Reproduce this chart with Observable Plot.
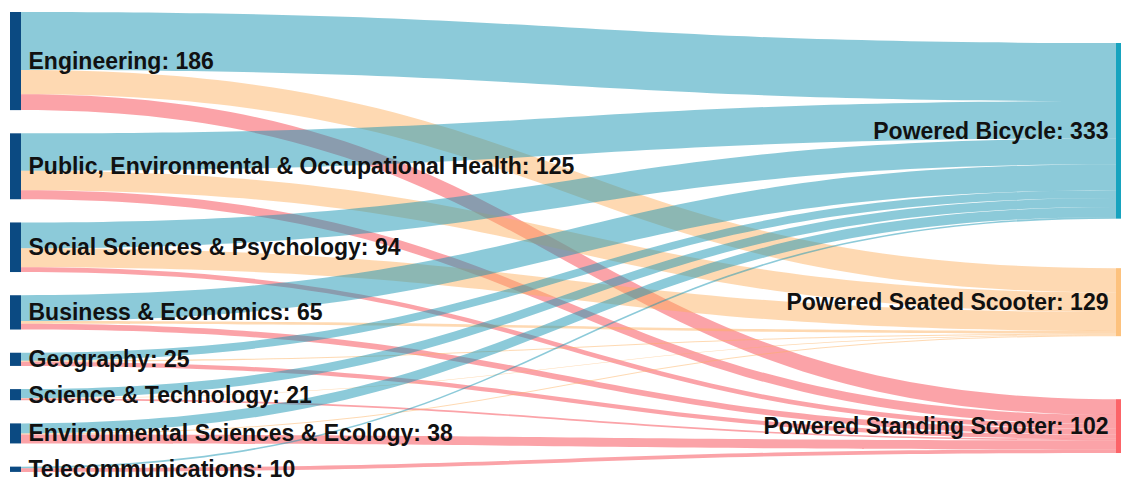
<!DOCTYPE html>
<html>
<head>
<meta charset="utf-8">
<script src="https://cdn.jsdelivr.net/npm/d3@7"></script>
<script src="https://cdn.jsdelivr.net/npm/@observablehq/plot@0.6"></script>
<style>
  html, body { margin: 0; padding: 0; background: #fff; }
  #chart svg { display: block; }
</style>
</head>
<body>
<div id="chart"></div>
<script>
// ---- data ----
const sources = [
  "Engineering",
  "Public, Environmental & Occupational Health",
  "Social Sciences & Psychology",
  "Business & Economics",
  "Geography",
  "Science & Technology",
  "Environmental Sciences & Ecology",
  "Telecommunications"
];
const targets = ["Powered Bicycle", "Powered Seated Scooter", "Powered Standing Scooter"];
const toBicycle       = [110, 71, 49, 49, 15, 17, 19, 3];
const toSeatedScooter = [46, 37, 36, 5, 2, 1, 2, 0];
const toStandingScooter = [30, 17, 9, 11, 8, 3, 17, 7];

// ---- style / layout settings ----
const W = 1121, H = 482;
const nodeW = 11, leftX = 10, rightX = 1116;
const k = 0.5275;              // px per unit
const leftTop = 12, leftGap = 23.2;
const rightTop = 43, rightGaps = [49.5, 63];
const sourceColor = "#0b4a82";
const targetColors = ["#17a3bf", "#fdc27e", "#fc6468"];
const linkColors = ["rgba(25,150,180,0.5)", "rgba(252,176,95,0.48)", "rgba(248,72,82,0.5)"];
const labelSize = 23;

// ---- sankey layout ----
const matrix = sources.map((s, i) => [toBicycle[i], toSeatedScooter[i], toStandingScooter[i]]);
const srcTotals = matrix.map(r => d3.sum(r));
const tgtTotals = targets.map((t, j) => d3.sum(matrix, r => r[j]));

const nodes = [];
let y = leftTop;
sources.forEach((s, i) => {
  const h = srcTotals[i] * k;
  nodes.push({name: s, value: srcTotals[i], x1: leftX, x2: leftX + nodeW, y1: y, y2: y + h, fill: sourceColor, side: "left"});
  y += h + leftGap;
});
y = rightTop;
targets.forEach((t, j) => {
  const h = tgtTotals[j] * k;
  nodes.push({name: t, value: tgtTotals[j], x1: rightX, x2: rightX + nodeW, y1: y, y2: y + h, fill: targetColors[j], side: "right"});
  y += h + (rightGaps[j] ?? 0);
});
const srcNodes = nodes.filter(n => n.side === "left");
const tgtNodes = nodes.filter(n => n.side === "right");

const srcOff = srcNodes.map(n => n.y1);
const tgtOff = tgtNodes.map(n => n.y1);
const linkPts = [];
const linkGeom = {};
sources.forEach((s, i) => {
  targets.forEach((t, j) => {
    const v = matrix[i][j];
    if (!v) return;
    linkGeom[i + "-" + j] = {sy: srcOff[i], w: v * k};
    srcOff[i] += v * k;
  });
});
targets.forEach((t, j) => {
  sources.forEach((s, i) => {
    const v = matrix[i][j];
    if (!v) return;
    linkGeom[i + "-" + j].ty = tgtOff[j];
    tgtOff[j] += v * k;
  });
});
sources.forEach((s, i) => {
  targets.forEach((t, j) => {
    const g = linkGeom[i + "-" + j];
    if (!g) return;
    const id = i + "-" + j;
    linkPts.push({id, x: leftX + nodeW, y1: g.sy, y2: g.sy + g.w, fill: linkColors[j]});
    linkPts.push({id, x: rightX, y1: g.ty, y2: g.ty + g.w, fill: linkColors[j]});
  });
});

const labels = nodes.map(n => ({
  text: `${n.name}: ${n.value}`,
  x: n.side === "left" ? n.x2 + 7 : n.x1 - 8,
  y: (n.y1 + n.y2) / 2,
  anchor: n.side === "left" ? "start" : "end"
}));

const chart = Plot.plot({
  width: W,
  height: H,
  margin: 0,
  x: {domain: [0, W], range: [0, W], axis: null},
  y: {domain: [0, H], range: [0, H], axis: null},
  color: {type: "identity"},
  style: {fontFamily: "'Liberation Sans', Arial, Helvetica, sans-serif", background: "#fff"},
  marks: [
    Plot.areaY(linkPts, {x: "x", y1: "y1", y2: "y2", z: "id", fill: "fill", curve: "bump-x"}),
    Plot.rect(nodes, {x1: "x1", x2: "x2", y1: "y1", y2: "y2", fill: "fill"}),
    Plot.text(labels.filter(d => d.anchor === "start"), {x: "x", y: "y", text: "text", textAnchor: "start", fontSize: labelSize, fontWeight: "bold", fill: "#111"}),
    Plot.text(labels.filter(d => d.anchor === "end"), {x: "x", y: "y", text: "text", textAnchor: "end", fontSize: labelSize, fontWeight: "bold", fill: "#111"})
  ]
});
document.getElementById("chart").appendChild(chart);
</script>
</body>
</html>
